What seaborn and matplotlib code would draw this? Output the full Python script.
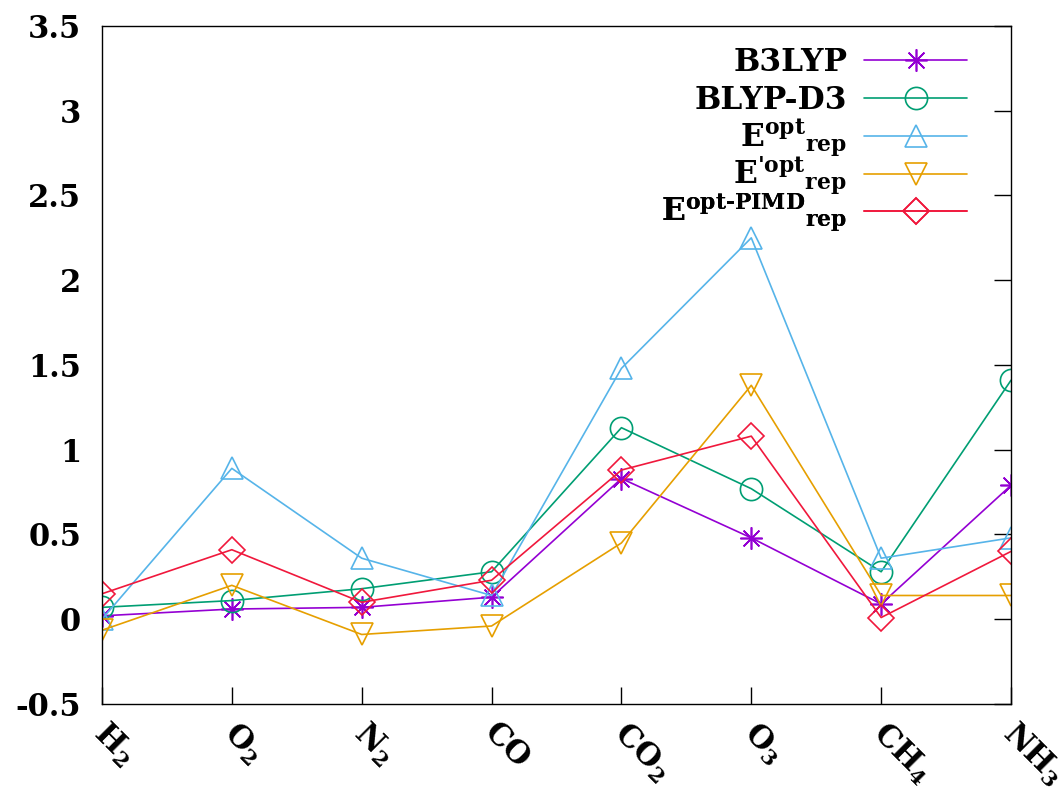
import matplotlib
matplotlib.use("Agg")
import matplotlib.pyplot as plt
import matplotlib.transforms as mtransforms
import seaborn as sns
import pandas as pd

molecules = ["H$_2$", "O$_2$", "N$_2$", "CO", "CO$_2$", "O$_3$", "CH$_4$", "NH$_3$"]

b3lyp      = [0.02, 0.06, 0.07, 0.13, 0.83, 0.48, 0.09, 0.79]
blyp_d3    = [0.07, 0.11, 0.18, 0.28, 1.13, 0.77, 0.28, 1.41]
e_opt      = [0.00, 0.89, 0.36, 0.14, 1.48, 2.25, 0.36, 0.48]
e_opt_p    = [-0.065, 0.20, -0.09, -0.04, 0.45, 1.38, 0.14, 0.14]
e_opt_pimd = [0.15, 0.41, 0.10, 0.23, 0.88, 1.08, 0.01, 0.40]

labels = ["B3LYP", "BLYP-D3",
          r"$\mathbf{E}^{\mathbf{opt}}{}_{\mathbf{rep}}$",
          r"$\mathbf{E}^{\mathbf{\text{'}opt}}{}_{\mathbf{rep}}$",
          r"$\mathbf{E}^{\mathbf{opt\text{-}PIMD}}{}_{\mathbf{rep}}$"]
series = [b3lyp, blyp_d3, e_opt, e_opt_p, e_opt_pimd]
colors = ["#9400d3", "#009e73", "#56b4e9", "#e69f00", "#f0183c"]
markers = [(8, 2, 0), "o", "^", "v", "D"]
msizes = [16, 16, 16, 16, 13]

sns.set_theme(style="white")
plt.rcParams["font.family"] = ["DejaVu Serif"]
plt.rcParams["font.weight"] = "bold"
plt.rcParams["text.color"] = "black"
plt.rcParams["mathtext.fontset"] = "custom"
plt.rcParams["mathtext.rm"] = "DejaVu Serif:bold"
plt.rcParams["mathtext.bf"] = "DejaVu Serif:bold"
plt.rcParams["mathtext.it"] = "DejaVu Serif:bold"

fig = plt.figure(figsize=(10.62, 7.87), dpi=100)
ax = fig.add_axes([0.096, 0.1055, 0.856, 0.8615])

x = list(range(len(molecules)))
for lab, vals, c, m, s in zip(labels, series, colors, markers, msizes):
    df = pd.DataFrame({"x": x, "y": vals})
    sns.lineplot(data=df, x="x", y="y", ax=ax, color=c, marker=m,
                 markersize=s, markerfacecolor="none", markeredgecolor=c,
                 markeredgewidth=1.2, linewidth=1.2, label=lab)

for line in ax.lines:
    line.set_markerfacecolor("none")

ax.set_xlim(0, 7)
ax.set_ylim(-0.5, 3.5)
ax.set_yticks([-0.5, 0, 0.5, 1, 1.5, 2, 2.5, 3, 3.5])
ax.set_yticklabels(["-0.5", "0", "0.5", "1", "1.5", "2", "2.5", "3", "3.5"])
ax.set_xticks(x)
ax.set_xticklabels(molecules, rotation=-45, ha="left", va="top",
                   rotation_mode="anchor")
ax.set_xlabel("")
ax.set_ylabel("")
ax.tick_params(axis="both", direction="in", length=12, width=1, color="black",
               labelsize=22, labelcolor="black")
ax.tick_params(axis="y", right=True, pad=15)
ax.tick_params(axis="x", bottom=True, top=False, pad=11)
for sp in ax.spines.values():
    sp.set_visible(True)
    sp.set_color("black")
    sp.set_linewidth(1.0)

offset = mtransforms.ScaledTranslation(8 / 100, 2 / 100, fig.dpi_scale_trans)
for lbl in ax.get_xticklabels():
    lbl.set_transform(lbl.get_transform() + offset)

# legend: one entry per row, gnuplot-like fixed row spacing
h, l = ax.get_legend_handles_labels()
if ax.get_legend():
    ax.get_legend().remove()
row_y = [0.9455, 0.8895, 0.8345, 0.7785, 0.7245]
for hi, li, yy in zip(h, l, row_y):
    leg = ax.legend([hi], [li], loc="center right", frameon=False,
                    markerfirst=False, fontsize=22.5, handlelength=3.3,
                    handletextpad=0.55, borderaxespad=0, borderpad=0,
                    labelcolor="black", bbox_to_anchor=(0.952, yy))
    ax.add_artist(leg)

fig.savefig("out.png", dpi=100)
